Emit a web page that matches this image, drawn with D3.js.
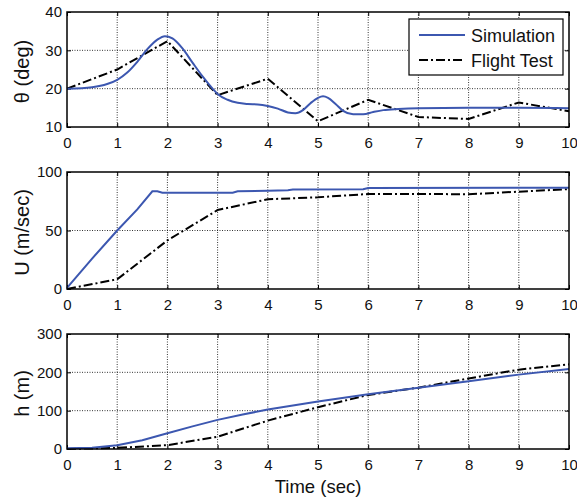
<!DOCTYPE html>
<html>
<head>
<meta charset="utf-8">
<script src="https://cdn.jsdelivr.net/npm/d3@7"></script>
<style>
  body { margin: 0; background: #fff; }
  svg { font-family: "Liberation Sans", Arial, sans-serif; }
</style>
</head>
<body>
<div id="chart"></div>
<script>
// ===== DATA =====
const xTicks = [0, 1, 2, 3, 4, 5, 6, 7, 8, 9, 10];

// theta (deg)
const thetaSimT = [0, 0.5, 0.8, 1, 1.2, 1.4, 1.6, 1.8, 1.95, 2.1, 2.3, 2.5, 2.7, 2.9, 3, 3.2, 3.4, 3.6, 3.8, 4, 4.2, 4.4, 4.55, 4.7, 4.85, 5, 5.1, 5.2, 5.35, 5.5, 5.7, 5.9, 6.1, 6.3, 6.6, 7, 8, 9, 10];
const thetaSim  = [20, 20.4, 21.2, 22.3, 24.2, 27, 30.3, 32.8, 33.7, 33.1, 30.5, 26.8, 23.2, 20, 18.6, 17.1, 16.3, 16, 15.9, 15.5, 14.8, 13.8, 13.6, 14.4, 16.2, 17.6, 18, 17.6, 16, 14.2, 13.3, 13.3, 13.9, 14.4, 14.7, 14.9, 15, 15, 14.9];
const thetaFltT = [0, 1, 2, 3, 4, 5, 6, 7, 8, 9, 10];
const thetaFlt  = [20, 25, 32.4, 18.3, 22.6, 11.5, 17.1, 12.6, 12.1, 16.4, 14.1];

// U (m/sec)
const uSimT = [0, 0.5, 1, 1.4, 1.7, 1.8, 1.9, 3.3, 3.4, 4, 4.4, 4.5, 5.9, 6, 10];
const uSim  = [1, 26, 50, 68, 83.5, 83.5, 82.3, 82.3, 83.5, 84, 84.5, 85, 85.2, 86.3, 86.6];
const uFltT = [0, 1, 2, 3, 4, 5, 6, 7, 8, 9, 10];
const uFlt  = [0, 8.3, 41.5, 67.5, 76.7, 78.4, 81.2, 81.2, 81, 83.2, 85.4];

// h (m)
const hSimT = [0, 0.5, 1, 1.5, 2, 2.5, 3, 3.5, 4, 5, 6, 7, 8, 9, 10];
const hSim  = [2, 3, 10, 23, 41, 59, 76, 90, 103, 124, 143, 160, 177, 194, 209];
const hFltT = [0, 1, 2, 3, 4, 5, 6, 7, 8, 9, 10];
const hFlt  = [0, 3, 10, 32, 74, 109, 141, 160, 184, 207, 221];

const panels = [
  { label: "\u03b8 (deg)", domain: [10, 40], ticks: [10, 20, 30, 40], top: 12, bottom: 127,
    sim: [thetaSimT, thetaSim], flt: [thetaFltT, thetaFlt], legend: true },
  { label: "U (m/sec)", domain: [0, 100], ticks: [0, 50, 100], top: 172, bottom: 289,
    sim: [uSimT, uSim], flt: [uFltT, uFlt] },
  { label: "h (m)", domain: [0, 300], ticks: [0, 100, 200, 300], top: 334, bottom: 449,
    sim: [hSimT, hSim], flt: [hFltT, hFlt] }
];

const W = 577, H = 502;
const left = 67, right = 569;
const blue = "#3c57b0";
const font = "'Liberation Sans', Arial, sans-serif";

const svg = d3.select("#chart").append("svg")
  .attr("width", W).attr("height", H);

const x = d3.scaleLinear().domain([0, 10]).range([left, right]);

panels.forEach(p => {
  const y = d3.scaleLinear().domain(p.domain).range([p.bottom, p.top]);
  const g = svg.append("g");

  // grid
  g.selectAll(".gx").data(xTicks.slice(1, -1)).join("line")
    .attr("x1", d => x(d)).attr("x2", d => x(d))
    .attr("y1", p.top).attr("y2", p.bottom)
    .attr("stroke", "#000").attr("stroke-width", 0.8).attr("stroke-dasharray", "1,1.5");
  g.selectAll(".gy").data(p.ticks.slice(1, -1)).join("line")
    .attr("x1", left).attr("x2", right)
    .attr("y1", d => y(d)).attr("y2", d => y(d))
    .attr("stroke", "#000").attr("stroke-width", 0.8).attr("stroke-dasharray", "1,1.5");

  // axes (ticks inside)
  g.append("g").attr("transform", `translate(0,${p.bottom})`)
    .call(d3.axisBottom(x).tickValues(xTicks).tickSize(-4).tickPadding(10).tickFormat(d3.format("d")))
    .call(a => a.select(".domain").remove())
    .call(a => a.selectAll("text").attr("font-size", 15).attr("font-family", font).attr("fill", "#111"));
  g.append("g").attr("transform", `translate(${left},0)`)
    .call(d3.axisLeft(y).tickValues(p.ticks).tickSize(-4).tickPadding(5).tickFormat(d3.format("d")))
    .call(a => a.select(".domain").remove())
    .call(a => a.selectAll("text").attr("font-size", 15).attr("font-family", font).attr("fill", "#111"));
  g.append("g").attr("transform", `translate(0,${p.top})`)
    .call(d3.axisTop(x).tickValues(xTicks).tickSize(-4).tickFormat(""))
    .call(a => a.select(".domain").remove());
  g.append("g").attr("transform", `translate(${right},0)`)
    .call(d3.axisRight(y).tickValues(p.ticks).tickSize(-4).tickFormat(""))
    .call(a => a.select(".domain").remove());

  // y label
  g.append("text")
    .attr("transform", `translate(24,${(p.top + p.bottom) / 2 + 2}) rotate(-90)`)
    .attr("text-anchor", "middle").attr("dominant-baseline", "middle")
    .attr("font-size", 20).attr("fill", "#111")
    .text(p.label);

  const line = d3.line().x(d => x(d[0])).y(d => y(d[1]));
  const simPts = d3.zip(p.sim[0], p.sim[1]);
  const fltPts = d3.zip(p.flt[0], p.flt[1]);

  g.append("path").datum(fltPts)
    .attr("d", line)
    .attr("fill", "none").attr("stroke", "#000").attr("stroke-width", 2)
    .attr("stroke-dasharray", "9,3,2,3");
  g.append("path").datum(simPts)
    .attr("d", p.legend ? line.curve(d3.curveMonotoneX) : line.curve(d3.curveLinear))
    .attr("fill", "none").attr("stroke", blue).attr("stroke-width", 2);

  // box
  g.append("rect")
    .attr("x", left).attr("y", p.top)
    .attr("width", right - left).attr("height", p.bottom - p.top)
    .attr("fill", "none").attr("stroke", "#000").attr("stroke-width", 1.5);

  if (p.legend) {
    const lg = svg.append("g").attr("transform", "translate(409,19)");
    lg.append("rect").attr("width", 154).attr("height", 56)
      .attr("fill", "#fff").attr("stroke", "#000").attr("stroke-width", 1.2);
    const items = [
      { name: "Simulation", color: blue, dash: null },
      { name: "Flight Test", color: "#000", dash: "9,3,2,3" }
    ];
    items.forEach((it, i) => {
      const yy = 16 + i * 25;
      lg.append("line").attr("x1", 10).attr("x2", 56).attr("y1", yy).attr("y2", yy)
        .attr("stroke", it.color).attr("stroke-width", 2)
        .attr("stroke-dasharray", it.dash);
      lg.append("text").attr("x", 62).attr("y", yy + 6.5)
        .attr("font-size", 18).attr("fill", "#111").text(it.name);
    });
  }
});

svg.append("text")
  .attr("x", 318).attr("y", 493)
  .attr("text-anchor", "middle")
  .attr("font-size", 18.5).attr("fill", "#111")
  .text("Time (sec)");
</script>
</body>
</html>
